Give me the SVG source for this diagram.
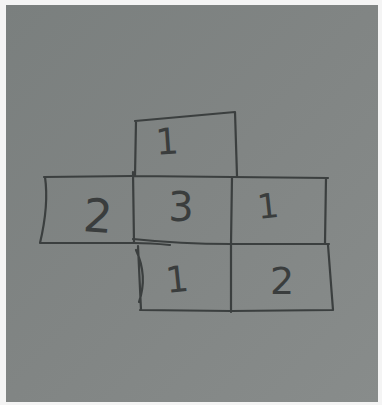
<svg xmlns="http://www.w3.org/2000/svg" width="382" height="405" viewBox="0 0 382 405">
<defs>
<linearGradient id="paper" x1="0" y1="0" x2="1" y2="1">
<stop offset="0" stop-color="#7a7f7e"/>
<stop offset="0.5" stop-color="#818584"/>
<stop offset="1" stop-color="#888c8b"/>
</linearGradient>
<style>
.ln{fill:none;stroke:#3b3f3f;stroke-width:2.2;stroke-linecap:round;stroke-linejoin:round}
.dg{font-family:"DejaVu Sans","Liberation Sans",sans-serif;fill:#3a3d3d;text-anchor:middle;font-weight:normal}
</style>
</defs>
<rect x="0" y="0" width="382" height="405" fill="#f4f4f4"/>
<rect x="6" y="5" width="372" height="397" fill="url(#paper)"/>
<g id="face-top">
<path class="ln" d="M135,121 L235,112 M136,121 L135,176 M235,112 L237,176"/>
<text class="dg" x="167" y="154" font-size="36" transform="rotate(-4 167 142)">1</text>
</g>
<g id="face-left">
<path class="ln" d="M44,177 L133,176 M45,177 Q49,205 40,243 M40,243 L133,243"/>
<text class="dg" x="98" y="232" font-size="46" transform="rotate(4 98 215)">2</text>
</g>
<g id="face-center">
<path class="ln" d="M133,176 L232,177 M133,172 L134,243 M232,177 L231,244"/>
<path class="ln" d="M133,239 Q180,244 231,244 M134,243 Q150,243 170,245"/>
<text class="dg" x="181" y="221" font-size="40">3</text>
</g>
<g id="face-right">
<path class="ln" d="M232,177 L328,178 M326,178 L325,243 M231,244 L329,244"/>
<text class="dg" x="268" y="218" font-size="34" transform="rotate(-6 268 206)">1</text>
</g>
<g id="face-bottom-left">
<path class="ln" d="M138,246 L141,310 M140,310 L231,311 M136,250 Q148,276 139,302"/>
<text class="dg" x="177" y="292" font-size="36" transform="rotate(-6 177 278)">1</text>
</g>
<g id="face-bottom-right">
<path class="ln" d="M231,244 L231,312 M231,311 L333,310 M328,245 L333,310"/>
<text class="dg" x="282" y="294" font-size="38">2</text>
</g>
</svg>
